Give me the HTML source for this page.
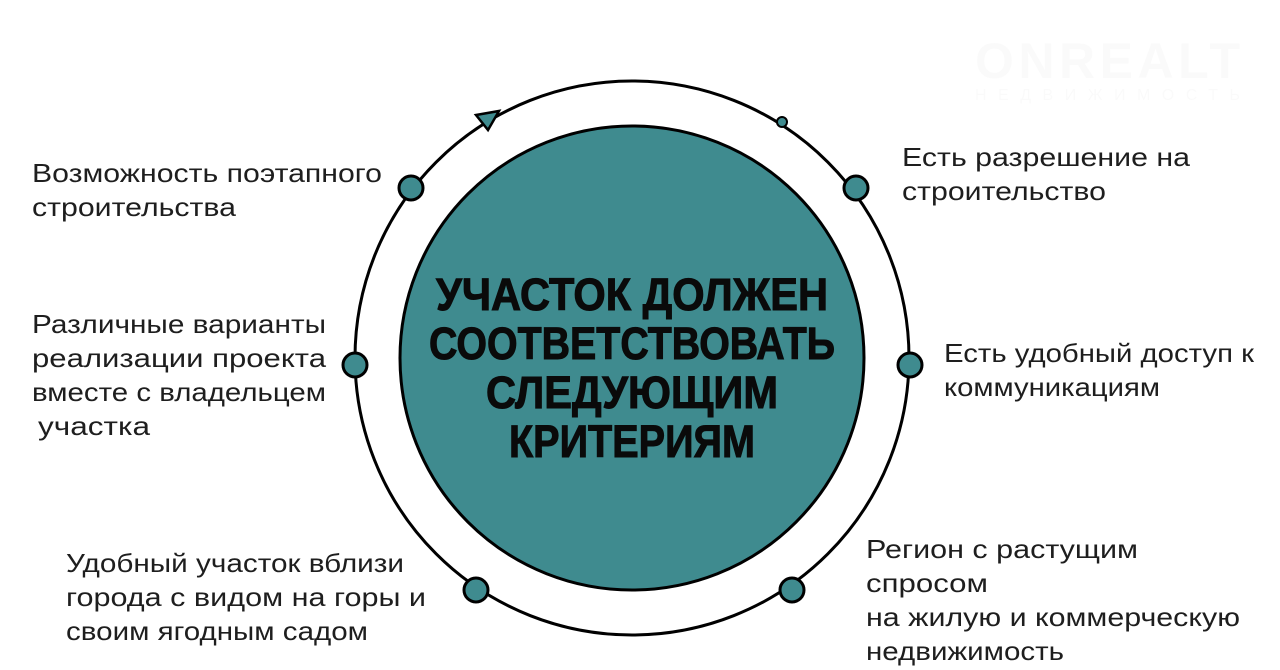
<!DOCTYPE html>
<html><head><meta charset="utf-8"><style>
html,body{margin:0;padding:0;background:#fff;width:1280px;height:670px;overflow:hidden}
svg{display:block}
.t{font-family:"Liberation Sans","Noto Sans CJK SC",sans-serif;font-size:26px;fill:#1e1e1e}
.c{font-family:"Liberation Sans","Noto Sans CJK SC",sans-serif;font-size:45px;font-weight:bold;fill:#0a0a0a;stroke:#0a0a0a;stroke-width:1}
</style></head><body>
<svg width="1280" height="670" viewBox="0 0 1280 670" xmlns="http://www.w3.org/2000/svg">
<g opacity="0.03" fill="#888">
<text x="975" y="78" font-family="Liberation Sans" font-weight="bold" font-size="50" textLength="265">ONREALT</text>
<text x="975" y="100" font-family="Liberation Sans" font-size="16" textLength="265">НЕДВИЖИМОСТЬ</text>
</g>
<circle cx="632" cy="358" r="277" fill="none" stroke="#000" stroke-width="3"/>
<circle cx="632" cy="358" r="232" fill="#3f8b8f" stroke="#000" stroke-width="3"/>
<g fill="#3f8b8f" stroke="#000" stroke-width="3">
<circle cx="411" cy="188" r="12"/>
<circle cx="856" cy="188" r="12"/>
<circle cx="355" cy="365" r="12"/>
<circle cx="910" cy="365" r="12"/>
<circle cx="476" cy="590" r="12"/>
<circle cx="792" cy="590" r="12"/>
<circle cx="782" cy="122" r="5" stroke-width="2"/>
<polygon points="476,115 499,111 488,130" stroke-width="2.5"/>
</g>
<text class="c" x="632" y="310" text-anchor="middle" textLength="392" lengthAdjust="spacingAndGlyphs">УЧАСТОК ДОЛЖЕН</text>
<text class="c" x="632" y="359" text-anchor="middle" textLength="406" lengthAdjust="spacingAndGlyphs">СООТВЕТСТВОВАТЬ</text>
<text class="c" x="632" y="408" text-anchor="middle" textLength="292" lengthAdjust="spacingAndGlyphs">СЛЕДУЮЩИМ</text>
<text class="c" x="632" y="457" text-anchor="middle" textLength="246" lengthAdjust="spacingAndGlyphs">КРИТЕРИЯМ</text>

<text class="t" x="32" y="182" textLength="350" lengthAdjust="spacingAndGlyphs">Возможность поэтапного</text>
<text class="t" x="32" y="216" textLength="204" lengthAdjust="spacingAndGlyphs">строительства</text>
<text class="t" x="32" y="333" textLength="294" lengthAdjust="spacingAndGlyphs">Различные варианты</text>
<text class="t" x="32" y="367" textLength="294" lengthAdjust="spacingAndGlyphs">реализации проекта</text>
<text class="t" x="32" y="401" textLength="294" lengthAdjust="spacingAndGlyphs">вместе с владельцем</text>
<text class="t" x="38" y="435" textLength="112" lengthAdjust="spacingAndGlyphs">участка</text>
<text class="t" x="66" y="572" textLength="338" lengthAdjust="spacingAndGlyphs">Удобный участок вблизи</text>
<text class="t" x="66" y="606" textLength="360" lengthAdjust="spacingAndGlyphs">города с видом на горы и</text>
<text class="t" x="66" y="640" textLength="302" lengthAdjust="spacingAndGlyphs">своим ягодным садом</text>

<text class="t" x="902" y="166" textLength="288" lengthAdjust="spacingAndGlyphs">Есть разрешение на</text>
<text class="t" x="902" y="200" textLength="204" lengthAdjust="spacingAndGlyphs">строительство</text>
<text class="t" x="944" y="362" textLength="310" lengthAdjust="spacingAndGlyphs">Есть удобный доступ к</text>
<text class="t" x="944" y="396" textLength="216" lengthAdjust="spacingAndGlyphs">коммуникациям</text>
<text class="t" x="866" y="558" textLength="272" lengthAdjust="spacingAndGlyphs">Регион с растущим</text>
<text class="t" x="866" y="592" textLength="122" lengthAdjust="spacingAndGlyphs">спросом</text>
<text class="t" x="866" y="626" textLength="374" lengthAdjust="spacingAndGlyphs">на жилую и коммерческую</text>
<text class="t" x="866" y="660" textLength="198" lengthAdjust="spacingAndGlyphs">недвижимость</text>
</svg>
</body></html>
